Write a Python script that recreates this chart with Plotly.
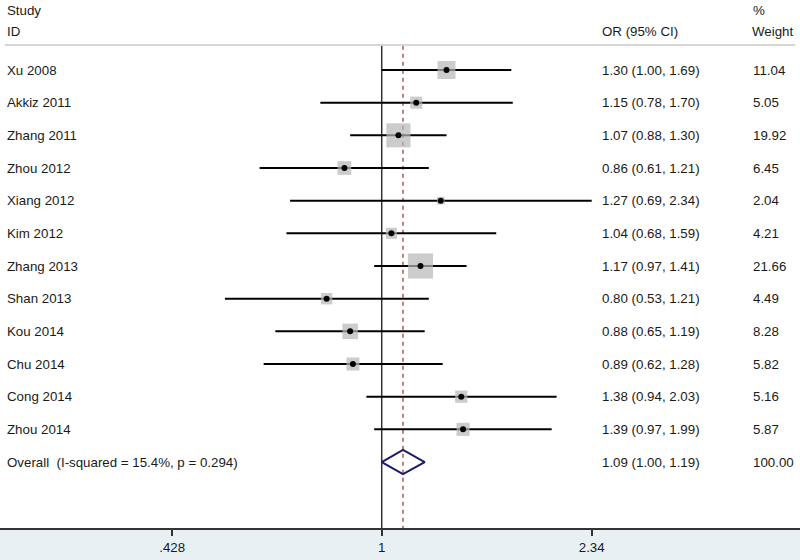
import plotly.graph_objects as go

studies = ["Xu 2008", "Akkiz 2011", "Zhang 2011", "Zhou 2012", "Xiang 2012", "Kim 2012",
           "Zhang 2013", "Shan 2013", "Kou 2014", "Chu 2014", "Cong 2014", "Zhou 2014"]
or_vals = [1.30, 1.15, 1.07, 0.86, 1.27, 1.04, 1.17, 0.80, 0.88, 0.89, 1.38, 1.39]
ci_low = [1.00, 0.78, 0.88, 0.61, 0.69, 0.68, 0.97, 0.53, 0.65, 0.62, 0.94, 0.97]
ci_high = [1.69, 1.70, 1.30, 1.21, 2.34, 1.59, 1.41, 1.21, 1.19, 1.28, 2.03, 1.99]
weights = [11.04, 5.05, 19.92, 6.45, 2.04, 4.21, 21.66, 4.49, 8.28, 5.82, 5.16, 5.87]
overall_label = "Overall  (I-squared = 15.4%, p = 0.294)"
overall = (1.09, 1.00, 1.19)
overall_weight = "100.00"
tick_vals = [0.428, 1, 2.34]
tick_text = [".428", "1", "2.34"]

n = len(studies)
rows = list(range(n))
overall_row = n

W, H = 800, 560
YTOP, YBOT = -2.143, 14.02

fig = go.Figure()

# CI lines
xs, ys = [], []
for i in rows:
    xs += [ci_low[i], ci_high[i], None]
    ys += [i, i, None]
fig.add_trace(go.Scatter(x=xs, y=ys, mode="lines", line=dict(color="black", width=2),
                         hoverinfo="skip", showlegend=False))

# weight boxes
fig.add_trace(go.Scatter(x=or_vals, y=rows, mode="markers",
                         marker=dict(symbol="square", size=[5.4 * w ** 0.5 for w in weights],
                                     color="#b6b6b6", line=dict(width=0)),
                         hoverinfo="skip", showlegend=False))
# point estimates
fig.add_trace(go.Scatter(x=or_vals, y=rows, mode="markers",
                         marker=dict(symbol="circle", size=6, color="black"),
                         hoverinfo="skip", showlegend=False))

# diamond
o, lo, hi = overall
fig.add_trace(go.Scatter(x=[lo, o, hi, o, lo], y=[overall_row, overall_row - 0.37, overall_row,
                                                   overall_row + 0.37, overall_row],
                         mode="lines", line=dict(color="#1b1b6b", width=2),
                         hoverinfo="skip", showlegend=False))

shapes = [
    # header separator
    dict(type="line", xref="paper", yref="y", x0=5 / W, x1=795 / W, y0=-0.765, y1=-0.765,
         line=dict(color="#c8c8c8", width=1.5)),
    # null line
    dict(type="line", xref="x", yref="y", x0=1, x1=1, y0=-0.74, y1=YBOT,
         line=dict(color="#333333", width=1.5), layer="below"),
    # overall dashed line
    dict(type="line", xref="x", yref="y", x0=o, x1=o, y0=-0.74, y1=YBOT,
         line=dict(color="#a85858", width=1.5, dash="4px,4px"), layer="below"),
]

font = dict(family="Liberation Sans, Arial", size=13.3, color="#1a1a1a")
ann = []

def txt(xpx, y, s):
    ann.append(dict(x=xpx / W, y=y, xref="paper", yref="y", text=s, showarrow=False,
                    xanchor="left", yanchor="middle", font=font))

txt(5, -1.81, "Study")
txt(5, -1.19, "ID")
txt(600, -1.19, "OR (95% CI)")
txt(751, -1.81, "%")
txt(750, -1.19, "Weight")
for i in rows:
    txt(5, i, studies[i])
    txt(600, i, f"{or_vals[i]:.2f} ({ci_low[i]:.2f}, {ci_high[i]:.2f})")
    txt(751, i, f"{weights[i]:.2f}")
txt(5, overall_row, overall_label)
txt(600, overall_row, f"{o:.2f} ({lo:.2f}, {hi:.2f})")
txt(751, overall_row, overall_weight)

fig.update_layout(
    width=W, height=H,
    margin=dict(l=0, r=0, t=0, b=32),
    paper_bgcolor="#e9f0f3",
    plot_bgcolor="white",
    shapes=shapes,
    annotations=ann,
    xaxis=dict(type="log", range=[-0.6712, 0.7355], tickvals=tick_vals, ticktext=tick_text,
               showgrid=False, zeroline=False, showline=True, linecolor="#333333", linewidth=1.5,
               ticks="outside", ticklen=6, tickwidth=1.5, tickcolor="#333333",
               tickfont=dict(family="Liberation Sans, Arial", size=13.3, color="#1a1a1a")),
    yaxis=dict(range=[YBOT, YTOP], showgrid=False, zeroline=False, showticklabels=False,
               showline=False, ticks=""),
)

fig.write_html("out.html", config={"displayModeBar": False},
               post_script="document.body.style.margin='0';document.body.style.overflow='hidden';")
